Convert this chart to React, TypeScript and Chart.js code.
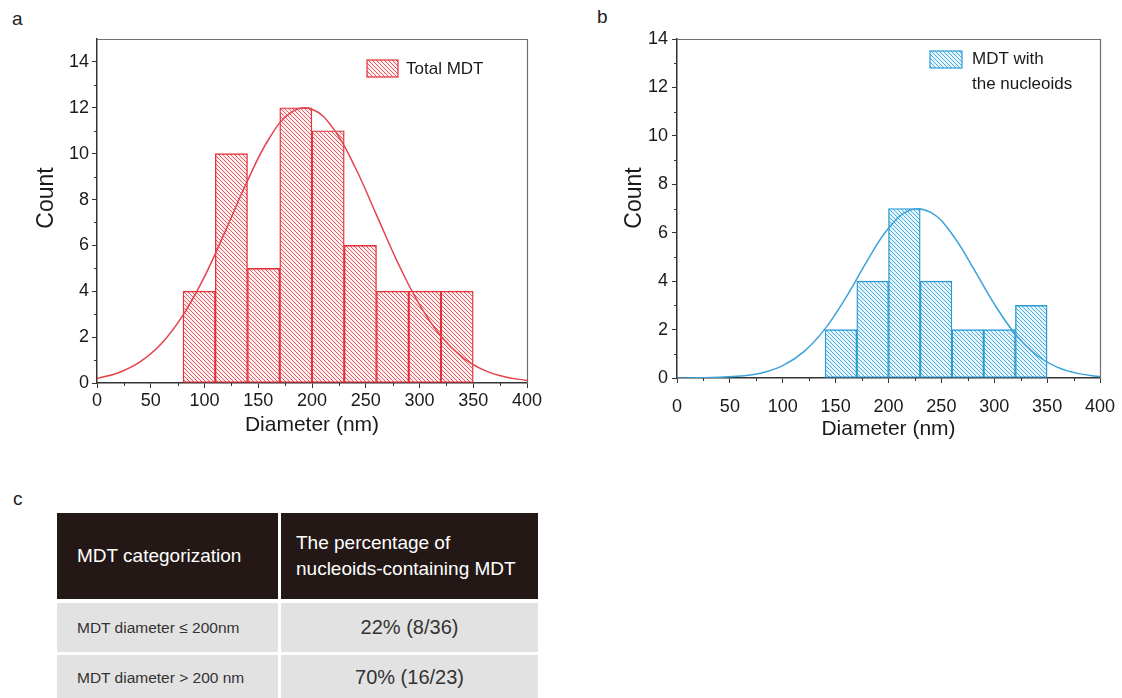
import React, { useEffect, useRef } from "react";
import { Chart, registerables } from "chart.js";

Chart.register(...registerables);

const FONT = '"Liberation Sans", Arial, Helvetica, sans-serif';

// ---------- data ----------
const xTickValues = [0, 50, 100, 150, 200, 250, 300, 350, 400];
const yTickValues = [0, 2, 4, 6, 8, 10, 12, 14];

// panel a: all MDT (bin width 30 nm, centres)
const totalBinCenters = [95, 125, 155, 185, 215, 245, 275, 305, 335];
const totalCounts = [4, 10, 5, 12, 11, 6, 4, 4, 4];

// panel b: MDT with the nucleoids
const nucleoidBinCenters = [155, 185, 215, 245, 275, 305, 335];
const nucleoidCounts = [2, 4, 7, 4, 2, 2, 3];

// fitted curves, every 20 nm
const fitX = [0, 20, 40, 60, 80, 100, 120, 140, 160, 180, 200, 220, 240, 260, 280, 300, 320, 340, 360, 380, 400];
const totalFit = [0.2, 0.45, 0.92, 1.72, 2.96, 4.64, 6.69, 8.82, 10.65, 11.78, 11.94, 11.08, 9.42, 7.33, 5.23, 3.42, 2.04, 1.12, 0.56, 0.26, 0.11];
const nucleoidFit = [0.0, 0.01, 0.03, 0.08, 0.21, 0.51, 1.09, 2.03, 3.34, 4.85, 6.18, 6.93, 6.84, 5.95, 4.55, 3.06, 1.81, 0.95, 0.44, 0.18, 0.06];

// table
const tableHeader = ["MDT categorization", "The percentage of\nnucleoids-containing MDT"];
const tableCategories = ["MDT diameter \u2264 200nm", "MDT diameter > 200 nm"];
const tablePercentages = ["22% (8/36)", "70% (16/23)"];

// ---------- helpers ----------
function makeHatch(ctx: CanvasRenderingContext2D, line: string, bg: string) {
  const s = 4;
  const c = document.createElement("canvas");
  c.width = s;
  c.height = s;
  const g = c.getContext("2d")!;
  g.fillStyle = bg;
  g.fillRect(0, 0, s, s);
  g.strokeStyle = line;
  g.lineWidth = 0.9;
  g.beginPath();
  for (const x0 of [-s, 0, s]) {
    g.moveTo(x0, 0);
    g.lineTo(x0 + s, s);
  }
  g.stroke();
  return ctx.createPattern(c, "repeat")!;
}

type PanelProps = {
  left: number;
  top: number;
  width: number;
  height: number;
  centers: number[];
  counts: number[];
  fit: number[];
  yMax: number;
  lineColor: string;
  hatchColor: string;
  curveColor: string;
  hatchBg: string;
  legendLines: string[];
  legendBox: { x: number; y: number; w: number; h: number };
  legendTextX: number;
  legendLineYs: number[];
  countX: number;
  countY: number;
  padding: { left: number; right: number; top: number; bottom: number };
  yWidth: number;
  xHeight: number;
  xTickPad: number;
  yTickPad: number;
};

function HistPanel(p: PanelProps) {
  const ref = useRef<HTMLCanvasElement>(null);
  useEffect(() => {
    const canvas = ref.current!;
    const ctx = canvas.getContext("2d")!;
    const hatch = makeHatch(ctx, p.hatchColor, p.hatchBg);

    const decor = {
      id: "decor",
      afterDraw(chart: any) {
        const c = chart.ctx as CanvasRenderingContext2D;
        const { left, right, top, bottom } = chart.chartArea;
        const xs = chart.scales.x;
        const ys = chart.scales.y;
        c.save();
        // frame top/right
        c.strokeStyle = "#6f6f6f";
        c.lineWidth = 1.2;
        c.beginPath();
        c.moveTo(left, top + 0.5);
        c.lineTo(right + 0.5, top + 0.5);
        c.lineTo(right + 0.5, bottom);
        c.stroke();
        // minor ticks
        c.strokeStyle = "#333";
        c.lineWidth = 1;
        c.beginPath();
        for (let i = 0; i < xTickValues.length - 1; i++) {
          const v = (xTickValues[i] + xTickValues[i + 1]) / 2;
          const px = Math.round(xs.getPixelForValue(v)) + 0.5;
          c.moveTo(px, bottom);
          c.lineTo(px, bottom + 3);
        }
        for (let i = 0; i < yTickValues.length - 1; i++) {
          const v = (yTickValues[i] + yTickValues[i + 1]) / 2;
          const py = Math.round(ys.getPixelForValue(v)) + 0.5;
          c.moveTo(left - 3, py);
          c.lineTo(left, py);
        }
        c.stroke();
        // y axis title
        c.save();
        c.translate(p.countX, top + p.countY);
        c.rotate(-Math.PI / 2);
        c.fillStyle = "#1a1a1a";
        c.font = `23px ${FONT}`;
        c.textAlign = "center";
        c.textBaseline = "middle";
        c.fillText("Count", 0, 0);
        c.restore();
        // legend
        const b = p.legendBox;
        const bx = left + b.x;
        const by = top + b.y;
        c.fillStyle = hatch;
        c.fillRect(bx, by, b.w, b.h);
        c.strokeStyle = p.lineColor;
        c.lineWidth = 1.2;
        c.strokeRect(bx, by, b.w, b.h);
        c.fillStyle = "#1a1a1a";
        c.font = `17px ${FONT}`;
        c.textBaseline = "middle";
        c.textAlign = "left";
        p.legendLines.forEach((t, i) => {
          c.fillText(t, left + p.legendTextX, top + p.legendLineYs[i]);
        });
        c.restore();
      },
    };

    const chart = new Chart(ctx, {
      type: "bar",
      data: {
        datasets: [
          {
            type: "line",
            data: fitX.map((x, i) => ({ x, y: p.fit[i] })),
            borderColor: p.curveColor,
            borderWidth: 1.5,
            pointRadius: 0,
            tension: 0.4,
            fill: false,
            order: 0,
          } as any,
          {
            type: "bar",
            data: p.centers.map((x, i) => ({ x, y: p.counts[i] })),
            backgroundColor: hatch,
            borderColor: p.lineColor,
            borderWidth: 1.4,
            borderSkipped: false,
            barPercentage: 1,
            categoryPercentage: 1,
            order: 1,
          } as any,
        ],
      },
      options: {
        responsive: false,
        animation: false,
        events: [],
        layout: { padding: p.padding },
        plugins: { legend: { display: false }, tooltip: { enabled: false } },
        scales: {
          x: {
            type: "linear",
            min: 0,
            max: 400,
            offset: false,
            afterBuildTicks: (s: any) => {
              s.ticks = xTickValues.map((v) => ({ value: v }));
            },
            afterFit: (s: any) => {
              s.height = p.xHeight;
            },
            ticks: {
              color: "#1a1a1a",
              font: { family: FONT, size: 18 },
              padding: p.xTickPad,
              maxRotation: 0,
              autoSkip: false,
            },
            grid: { display: true, drawOnChartArea: false, drawTicks: true, tickLength: 5, color: "#333", offset: false },
            border: { display: true, color: "#333", width: 1.5 },
            title: {
              display: true,
              text: "Diameter (nm)",
              color: "#1a1a1a",
              font: { family: FONT, size: 21 },
              padding: { top: 4, bottom: 4 },
            },
          },
          y: {
            type: "linear",
            min: 0,
            max: p.yMax,
            afterBuildTicks: (s: any) => {
              s.ticks = yTickValues.map((v) => ({ value: v }));
            },
            afterFit: (s: any) => {
              s.width = p.yWidth;
            },
            ticks: {
              color: "#1a1a1a",
              font: { family: FONT, size: 18 },
              padding: p.yTickPad,
            },
            grid: { display: true, drawOnChartArea: false, drawTicks: true, tickLength: 5, color: "#333" },
            border: { display: true, color: "#333", width: 1.5 },
            title: { display: false },
          },
        },
      } as any,
      plugins: [decor],
    });
    return () => chart.destroy();
  }, []);

  return (
    <canvas
      ref={ref}
      width={p.width}
      height={p.height}
      style={{ position: "absolute", left: p.left, top: p.top, width: p.width, height: p.height }}
    />
  );
}

const panelLabel = (text: string, left: number, top: number) => (
  <div style={{ position: "absolute", left, top, fontFamily: FONT, fontSize: 19, color: "#222", lineHeight: "20px" }}>
    {text}
  </div>
);

export default function App() {
  const cellBase: React.CSSProperties = {
    position: "absolute",
    display: "flex",
    alignItems: "center",
    boxSizing: "border-box",
    fontFamily: FONT,
  };
  return (
    <div
      style={{
        position: "absolute",
        left: 0,
        top: 0,
        width: 1122,
        height: 698,
        overflow: "hidden",
        background: "#fff",
      }}
    >
      {panelLabel("a", 12, 9)}
      {panelLabel("b", 597, 7)}
      {panelLabel("c", 13, 489)}

      <HistPanel
        left={20}
        top={20}
        width={540}
        height={430}
        centers={totalBinCenters}
        counts={totalCounts}
        fit={totalFit}
        yMax={15}
        lineColor="#e3303a"
        hatchColor="#e8454e"
        curveColor="#e4434b"
        hatchBg="#fdf0f0"
        legendLines={["Total MDT"]}
        legendBox={{ x: 270, y: 21, w: 31, h: 17 }}
        legendTextX={309}
        legendLineYs={[30]}
        countX={27}
        countY={159}
        padding={{ left: 11, right: 33, top: 19, bottom: 8 }}
        yWidth={66}
        xHeight={59}
        xTickPad={2}
        yTickPad={3}
      />
      <HistPanel
        left={600}
        top={20}
        width={540}
        height={430}
        centers={nucleoidBinCenters}
        counts={nucleoidCounts}
        fit={nucleoidFit}
        yMax={14}
        lineColor="#2b9bd6"
        hatchColor="#3aa5dc"
        curveColor="#3aa3d8"
        hatchBg="#e6f5fc"
        legendLines={["MDT with", "the nucleoids"]}
        legendBox={{ x: 253, y: 12, w: 32, h: 17 }}
        legendTextX={295}
        legendLineYs={[20, 45]}
        countX={35}
        countY={159}
        padding={{ left: 19, right: 40, top: 19, bottom: 4 }}
        yWidth={58}
        xHeight={68}
        xTickPad={13}
        yTickPad={4}
      />

      {/* table */}
      <div style={{ ...cellBase, left: 57, top: 513, width: 221, height: 86, background: "#231815", color: "#fff", fontSize: 19, paddingLeft: 20 }}>
        {tableHeader[0]}
      </div>
      <div
        style={{
          ...cellBase,
          left: 281,
          top: 513,
          width: 257,
          height: 86,
          background: "#231815",
          color: "#fff",
          fontSize: 19,
          paddingLeft: 15,
          whiteSpace: "pre-line",
          lineHeight: "26px",
        }}
      >
        {tableHeader[1]}
      </div>
      {tableCategories.map((cat, i) => {
        const top = i === 0 ? 603 : 655;
        const h = i === 0 ? 49 : 45;
        return (
          <React.Fragment key={cat}>
            <div style={{ ...cellBase, left: 57, top, width: 221, height: h, background: "#e2e2e2", color: "#333", fontSize: 15.5, paddingLeft: 20 }}>
              {cat}
            </div>
            <div style={{ ...cellBase, left: 281, top, width: 257, height: h, background: "#e2e2e2", color: "#333", fontSize: 20, justifyContent: "center" }}>
              {tablePercentages[i]}
            </div>
          </React.Fragment>
        );
      })}
    </div>
  );
}
